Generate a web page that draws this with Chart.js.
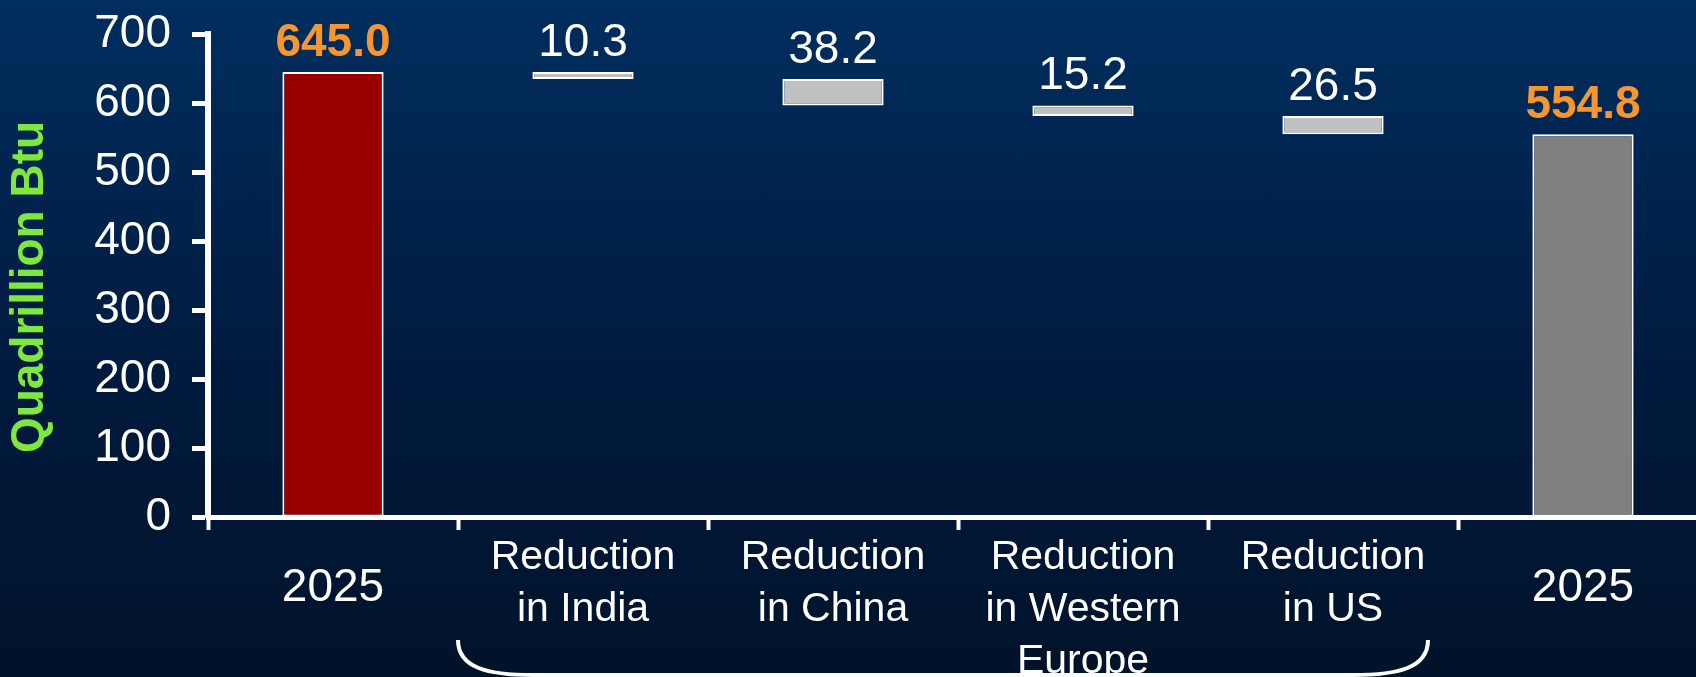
<!DOCTYPE html>
<html>
<head>
<meta charset="utf-8">
<script src="https://cdn.jsdelivr.net/npm/chart.js@4.4.1/dist/chart.umd.min.js"></script>
<style>
  html, body {
    margin: 0;
    padding: 0;
    overflow: hidden;
    width: 1696px;
    height: 677px;
    background: linear-gradient(to bottom, #002e5f 0%, #001a3e 55%, #00132a 100%);
  }
  #wrap {
    position: absolute;
    left: 0;
    top: 0;
    width: 1708px;
    height: 677px;
  }
</style>
</head>
<body>
<div id="wrap"><canvas id="chart"></canvas></div>
<script>
// categories along the x axis (multi-line labels as arrays)
const categories = [
  ['2025'],
  ['Reduction', 'in India'],
  ['Reduction', 'in China'],
  ['Reduction', 'in Western', 'Europe'],
  ['Reduction', 'in US'],
  ['2025']
];
const startTotal = 645.0;
const reductions = [10.3, 38.2, 15.2, 26.5];
const endTotal = 554.8;
const yTicks = [0, 100, 200, 300, 400, 500, 600, 700];

const FONT = '"Liberation Sans", Arial, Helvetica, sans-serif';
const orange = '#f7962f';
const green = '#7fe83e';

// build the floating ranges for the waterfall
const ranges = [[0, startTotal]];
let level = startTotal;
reductions.forEach(r => {
  ranges.push([+(level - r).toFixed(1), level]);
  level = +(level - r).toFixed(1);
});
ranges.push([0, endTotal]);

const labelTexts = [startTotal, ...reductions, endTotal].map(v => v.toFixed(1));
const isTotal = i => i === 0 || i === categories.length - 1;

const fills = categories.map((c, i) => i === 0 ? '#990000' : (i === categories.length - 1 ? '#808080' : '#c0c0c0'));

// value labels above each bar
const barLabels = {
  id: 'barLabels',
  afterDatasetsDraw(chart) {
    const ctx = chart.ctx;
    const meta = chart.getDatasetMeta(0);
    meta.data.forEach((bar, i) => {
      const top = Math.min(bar.y, bar.base);
      ctx.save();
      ctx.font = (isTotal(i) ? 'bold ' : '') + '46px ' + FONT;
      ctx.fillStyle = isTotal(i) ? orange : '#ffffff';
      ctx.textAlign = 'center';
      ctx.textBaseline = 'alphabetic';
      ctx.fillText(labelTexts[i], bar.x, top - 16);
      ctx.restore();
    });
  }
};

// curly brace grouping the reduction categories
const brace = {
  id: 'brace',
  afterDraw(chart) {
    const x = chart.scales.x;
    const w = x.getPixelForValue(1) - x.getPixelForValue(0);
    const left = x.getPixelForValue(1) - w / 2;
    const right = x.getPixelForValue(reductions.length) + w / 2 - 30;
    const top = chart.chartArea.bottom + 123;
    const bottom = chart.height - 2;
    const ctx = chart.ctx;
    ctx.save();
    ctx.strokeStyle = '#ffffff';
    ctx.lineWidth = 4;
    ctx.beginPath();
    ctx.moveTo(left, top);
    ctx.bezierCurveTo(left, top + 28, left + 30, bottom, left + 75, bottom);
    ctx.lineTo(right - 75, bottom);
    ctx.bezierCurveTo(right - 30, bottom, right, top + 28, right, top);
    ctx.stroke();
    ctx.restore();
  }
};

new Chart(document.getElementById('chart'), {
  type: 'bar',
  data: {
    labels: categories,
    datasets: [{
      data: ranges,
      backgroundColor: fills,
      borderColor: '#ffffff',
      borderWidth: 2,
      borderSkipped: false,
      categoryPercentage: 1,
      barPercentage: 0.405
    }]
  },
  options: {
    responsive: true,
    maintainAspectRatio: false,
    animation: false,
    layout: { padding: { top: 34, left: 0, right: 0, bottom: 0 } },
    plugins: {
      legend: { display: false },
      tooltip: { enabled: false }
    },
    scales: {
      x: {
        grid: {
          drawOnChartArea: false,
          drawTicks: true,
          tickLength: 13,
          tickWidth: 4,
          tickColor: '#ffffff',
          offset: true
        },
        border: { color: '#ffffff', width: 5 },
        ticks: {
          color: '#ffffff',
          padding: 2,
          autoSkip: false,
          maxRotation: 0,
          font: ctx => categories[ctx.index].length > 1
            ? { family: FONT, size: 41, lineHeight: '52px' }
            : { family: FONT, size: 46, lineHeight: '112px' }
        },
        afterFit: scale => {
          scale.height = 160;
          scale.paddingLeft = 0;
          scale.paddingRight = 0;
        }
      },
      y: {
        min: 0,
        max: 700,
        afterBuildTicks: scale => { scale.ticks = yTicks.map(v => ({ value: v })); },
        grid: {
          drawOnChartArea: false,
          tickLength: 16,
          tickWidth: 5,
          tickColor: '#ffffff'
        },
        border: { color: '#ffffff', width: 6 },
        ticks: {
          color: '#ffffff',
          padding: 21,
          font: { family: FONT, size: 46 }
        },
        title: {
          display: true,
          text: 'Quadrillion Btu\u2002',
          color: green,
          padding: { top: 3, bottom: 0 },
          font: { family: FONT, size: 46, weight: 'bold', lineHeight: 1.2 }
        },
        afterFit: scale => {
          scale.width = 208;
          scale.paddingTop = 0;
          scale.paddingBottom = 0;
        }
      }
    }
  },
  plugins: [barLabels, brace]
});
</script>
</body>
</html>
